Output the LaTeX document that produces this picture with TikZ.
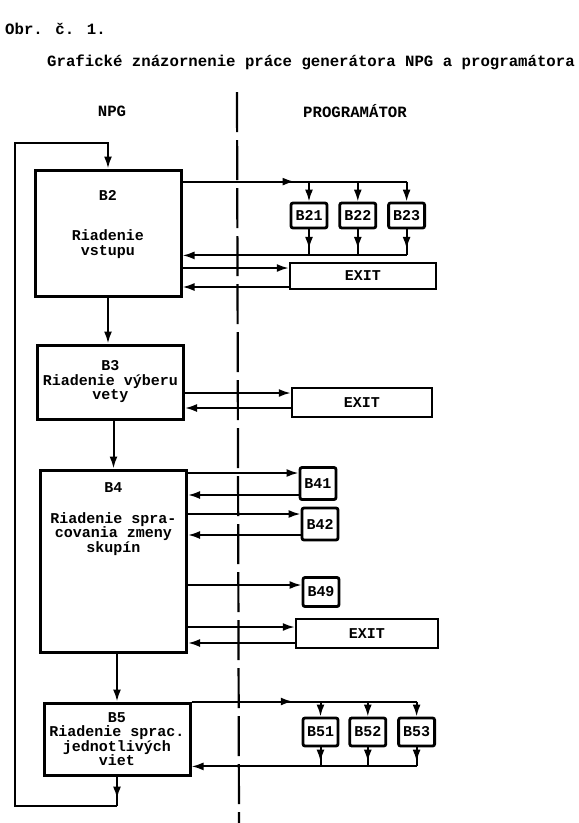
\documentclass[tikz,border=0pt]{standalone}
\usepackage{fontspec}
\setmainfont{Liberation Mono}
\usepackage{tikz}
\usetikzlibrary{positioning, arrows.meta, calc, decorations.markings}

\newcommand{\tw}{\fontsize{15}{14.5}\selectfont\bfseries}
\newcommand{\twbig}{\fontsize{15.7}{15}\selectfont\bfseries}

\begin{document}
\begin{tikzpicture}[
  x=1pt, y=-1pt,
  blk/.style={draw, line width=3pt, minimum width=146pt, align=center, inner sep=2pt, font=\tw},
  sub/.style={draw, line width=2.8pt, rounded corners=2pt, minimum width=36pt, minimum height=28pt, inner sep=1pt, font=\tw},
  exitbox/.style={draw, line width=2.4pt, minimum width=144pt, minimum height=27pt, font=\tw},
  txt/.style={inner sep=0pt, font=\twbig},
  ln/.style={line width=2pt},
  arr/.style={ln, -{Latex[length=12pt, width=8pt]}},
  marr/.style={ln, decoration={markings, mark=at position #1 with {\arrow{Latex[length=12pt, width=8pt]}}}, postaction=decorate},
  sep/.style={line width=2.2pt, dash pattern=on 40pt off 8pt}
]
  \useasboundingbox (0,0) rectangle (579,823);

  % headings
  \node[txt, anchor=west] (obr) at (5,29) {Obr. č. 1.};
  \node[txt, anchor=west] (title) at (47,62) {Grafické znázornenie práce generátora NPG a programátora};
  \node[txt] (npg) at (112,111) {NPG};
  \node[txt] (prog) at (355,111) {PROGRAMÁTOR};

  \coordinate (sepT) at (237,92);
  \coordinate (sepB) at (239,823);
  \draw[sep] (sepT) -- (sepB);

  % NPG blocks
  \node[blk, minimum height=126pt] (b2) at (108,233) {\parbox[c][86pt][t]{140pt}{\centering B2\\[26pt]Riadenie\\vstupu}};
  \node[blk, minimum height=74pt] (b3) at (110.5,382) {B3\\Riadenie výberu\\vety};
  \node[blk, minimum height=182pt] (b4) at (113.5,561) {\parbox[c][156pt][t]{140pt}{\centering B4\\[16pt]Riadenie spra-\\covania zmeny\\skupín}};
  \node[blk, minimum height=72pt] (b5) at (117,739) {B5\\Riadenie sprac.\\jednotlivých\\viet};

  % programator side
  \node[sub, minimum height=25pt] (b21) at (309,215.5) {B21};
  \node[sub, minimum height=25pt, right=10pt of b21] (b22) {B22};
  \node[sub, minimum height=25pt, right=10pt of b22] (b23) {B23};
  \node[exitbox, minimum width=146pt, minimum height=26pt] (exit1) at (363,276) {EXIT};
  \node[exitbox, minimum width=140pt, minimum height=29pt] (exit2) at (362,402.5) {EXIT};
  \node[sub, minimum height=32pt] (b41) at (318,483.5) {B41};
  \node[sub, minimum height=32pt] (b42) at (320,524) {B42};
  \node[sub, minimum height=29pt] (b49) at (321,592) {B49};
  \node[exitbox, minimum width=142pt, minimum height=29pt] (exit3) at (367,633.5) {EXIT};
  \node[sub, minimum width=35pt] (b51) at (320.5,732) {B51};
  \node[sub, right=9pt of b51] (b52) {B52};
  \node[sub, right=10pt of b52] (b53) {B53};

  % main flow
  \draw[arr] (b2.south) -- (b2.south |- b3.north);
  \draw[arr] (b4.north |- b3.south) -- (b4.north);
  \draw[arr] (b5.north |- b4.south) -- (b5.north);
  \coordinate (lpb) at (15,806);
  \coordinate (lpt) at (15,143);
  \draw[marr=0.75] (b5.south) -- (b5.south |- lpb);
  \draw[arr] (b5.south |- lpb) -- (lpb) -- (lpt) -| (b2.north);

  % B2 <-> B21..B23, EXIT
  \coordinate (t2) at ($(b23.north)+(0,-20)$);
  \coordinate (r2) at ($(b23.south)+(0,26)$);
  \draw[marr=0.5] (b2.east |- t2) -- (t2);
  \draw[arr] (b21.north |- t2) -- (b21.north);
  \draw[arr] (b22.north |- t2) -- (b22.north);
  \draw[arr] (t2) -- (b23.north);
  \draw[marr=0.75] (b21.south) -- (b21.south |- r2);
  \draw[marr=0.75] (b22.south) -- (b22.south |- r2);
  \draw[marr=0.75] (b23.south) -- (r2);
  \draw[arr] (r2) -- (b2.east |- r2);
  \coordinate (x1i) at ($(exit1.west)+(0,-8)$);
  \coordinate (x1o) at ($(exit1.west)+(0,11)$);
  \draw[arr] (b2.east |- x1i) -- (x1i);
  \draw[arr] (x1o) -- (b2.east |- x1o);

  % B3 <-> EXIT
  \coordinate (x2i) at ($(exit2.west)+(0,-9.5)$);
  \coordinate (x2o) at ($(exit2.west)+(0,5.5)$);
  \draw[arr] (b3.east |- x2i) -- (x2i);
  \draw[arr] (x2o) -- (b3.east |- x2o);

  % B4 <-> B41, B42, B49, EXIT
  \coordinate (i41) at ($(b41.west)+(0,-10.5)$);
  \coordinate (o41) at ($(b41.west)+(0,11.5)$);
  \coordinate (i42) at ($(b42.west)+(0,-10)$);
  \coordinate (o42) at ($(b42.west)+(0,11)$);
  \coordinate (i49) at ($(b49.west)+(0,-7)$);
  \coordinate (x3i) at ($(exit3.west)+(0,-6.5)$);
  \coordinate (x3o) at ($(exit3.west)+(0,9.5)$);
  \draw[arr] (b4.east |- i41) -- (i41);
  \draw[arr] (o41) -- (b4.east |- o41);
  \draw[arr] (b4.east |- i42) -- (i42);
  \draw[arr] (o42) -- (b4.east |- o42);
  \draw[arr] (b4.east |- i49) -- (i49);
  \draw[arr] (b4.east |- x3i) -- (x3i);
  \draw[arr] (x3o) -- (b4.east |- x3o);

  % B5 <-> B51..B53
  \coordinate (t5) at (b53.north |- b5.north);
  \coordinate (r5) at ($(b53.south)+(0,19)$);
  \draw[marr=0.45] (b5.north east) -- (t5);
  \draw[arr] (b51.north |- t5) -- (b51.north);
  \draw[arr] (b52.north |- t5) -- (b52.north);
  \draw[arr] (t5) -- (b53.north);
  \draw[marr=0.75] (b51.south) -- (b51.south |- r5);
  \draw[marr=0.75] (b52.south) -- (b52.south |- r5);
  \draw[marr=0.75] (b53.south) -- (r5);
  \draw[arr] (r5) -- (b5.east |- r5);
\end{tikzpicture}
\end{document}
